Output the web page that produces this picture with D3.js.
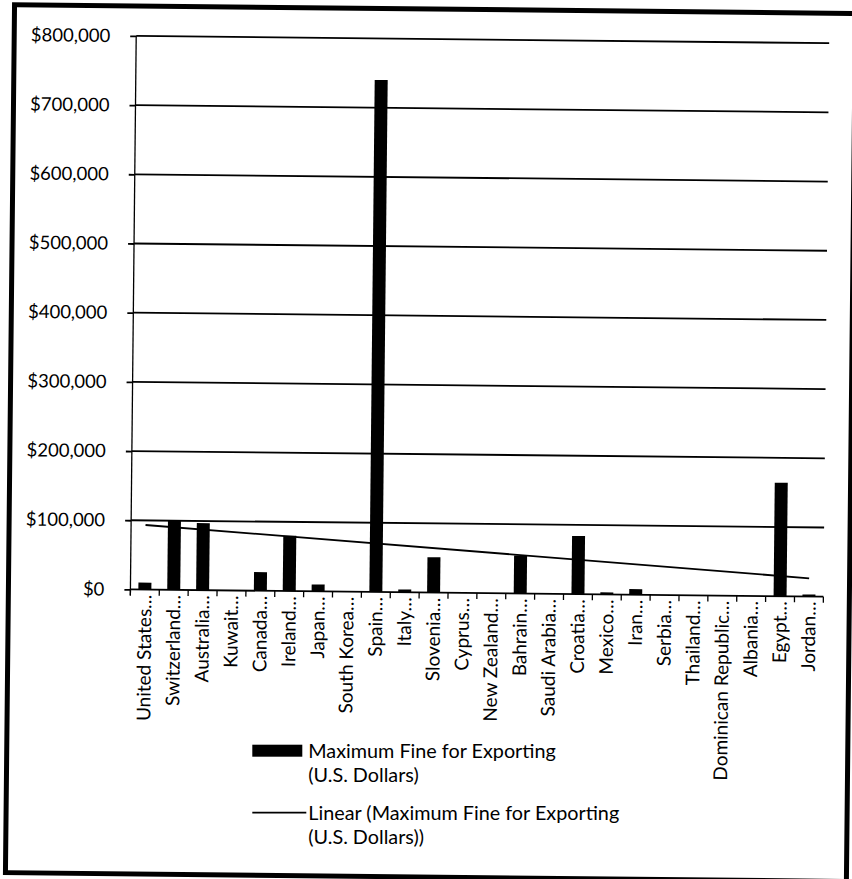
<!DOCTYPE html>
<html>
<head>
<meta charset="utf-8">
<script src="https://cdn.jsdelivr.net/npm/d3@7"></script>
<style>
  body { margin: 0; background: #fff; }
  svg { display: block; }
  text { font-family: Lato, "Open Sans", sans-serif; fill: #000; }
</style>
</head>
<body>
<svg id="chart" width="852" height="879"></svg>
<script>
// Countries in chart order
const countries = [
  "United States", "Switzerland", "Australia", "Kuwait", "Canada", "Ireland",
  "Japan", "South Korea", "Spain", "Italy", "Slovenia", "Cyprus",
  "New Zealand", "Bahrain", "Saudi Arabia", "Croatia", "Mexico", "Iran",
  "Serbia", "Thailand", "Dominican Republic", "Albania", "Egypt", "Jordan"
];

// Maximum fine for exporting, U.S. dollars
const maxFines = [
  10000, 100000, 97000, 0, 27000, 80000,
  10000, 0, 740000, 4000, 51000, 0,
  0, 55000, 0, 84000, 3000, 8000,
  0, 0, 0, 0, 164000, 3000
];

const yTicks = [0, 100000, 200000, 300000, 400000, 500000, 600000, 700000, 800000];

const legendBarText = ["Maximum Fine for Exporting", "(U.S. Dollars)"];
const legendTrendText = ["Linear (Maximum Fine for Exporting", "(U.S. Dollars))"];

const svg = d3.select("#chart");
// The whole sheet sits at a slight angle on the page
const root = svg.append("g").attr("transform", "rotate(0.6, 426, 440)");

const plot = { left: 132, right: 825, top: 39, bottom: 592.5 };
const axisFont = 18.5;
const labelFont = 19;
const legendFont = 19.8;

const x = d3.scaleBand()
  .domain(countries)
  .range([plot.left, plot.right])
  .paddingInner(0.55)
  .paddingOuter(0.275);

const y = d3.scaleLinear()
  .domain([0, 800000])
  .range([plot.bottom, plot.top]);

// Outer frame
root.append("rect")
  .attr("x", 10).attr("y", 9)
  .attr("width", 841).attr("height", 868)
  .attr("fill", "none")
  .attr("stroke", "#000")
  .attr("stroke-width", 5);

// Horizontal gridlines
root.append("g")
  .selectAll("line")
  .data(yTicks)
  .join("line")
  .attr("x1", plot.left).attr("x2", plot.right)
  .attr("y1", d => y(d)).attr("y2", d => y(d))
  .attr("stroke", "#000")
  .attr("stroke-width", 1.8);

// Y axis with currency labels
const yAxis = root.append("g")
  .attr("transform", `translate(${plot.left},0)`)
  .call(d3.axisLeft(y)
    .tickValues(yTicks)
    .tickSize(6)
    .tickSizeOuter(0)
    .tickPadding(20)
    .tickFormat(d3.format("$,")));
yAxis.select(".domain").attr("stroke", "#000").attr("stroke-width", 1.3)
  .attr("d", `M0,${plot.top}V${plot.bottom + 6}`);
yAxis.selectAll(".tick line").attr("stroke", "#000").attr("stroke-width", 1.8);
yAxis.selectAll(".tick text")
  .style("font-family", "Lato, 'Open Sans', sans-serif")
  .style("font-size", axisFont + "px")
  .attr("fill", "#000");

// Category tick marks between bands
const step = x.step();
const boundaries = countries.map(c => x(c) - step * x.paddingInner() / 2);
boundaries.push(x(countries[countries.length - 1]) + x.bandwidth() + step * x.paddingInner() / 2);
root.append("g")
  .selectAll("line")
  .data(boundaries)
  .join("line")
  .attr("x1", d => d).attr("x2", d => d)
  .attr("y1", plot.bottom).attr("y2", plot.bottom + 6)
  .attr("stroke", "#000")
  .attr("stroke-width", 1.3);

// Bars
root.append("g")
  .selectAll("rect")
  .data(countries.map((c, i) => ({ c, v: maxFines[i] })))
  .join("rect")
  .attr("x", d => x(d.c))
  .attr("width", x.bandwidth())
  .attr("y", d => y(d.v))
  .attr("height", d => y(0) - y(d.v))
  .attr("fill", "#000");

// Category labels, rotated and truncated
root.append("g")
  .selectAll("text")
  .data(countries)
  .join("text")
  .attr("transform", d => `translate(${x(d) + x.bandwidth() / 2},${plot.bottom + 5}) rotate(-90)`)
  .attr("text-anchor", "end")
  .attr("dy", "0.35em")
  .style("font-size", labelFont + "px")
  .text(d => d + "…");

// Linear trendline fitted over category index
const idx = maxFines.map((v, i) => i + 1);
const n = idx.length;
const mx = d3.mean(idx), my = d3.mean(maxFines);
const slope = d3.sum(idx, (xi, i) => (xi - mx) * (maxFines[i] - my)) /
              d3.sum(idx, xi => (xi - mx) * (xi - mx));
const intercept = my - slope * mx;
const trend = [1, n].map(k => ({ c: countries[k - 1], v: intercept + slope * k }));
root.append("path")
  .datum(trend)
  .attr("fill", "none")
  .attr("stroke", "#000")
  .attr("stroke-width", 1.8)
  .attr("d", d3.line()
    .x(d => x(d.c) + x.bandwidth() / 2)
    .y(d => y(d.v)));

// Legend, kept level and nudged to follow the sheet's tilt at its position
const lineGap = 24.5;
const legend = svg.append("g").attr("transform", "translate(-3.7,-0.3)");

function legendLabel(lines, top) {
  legend.append("g")
    .selectAll("text")
    .data(lines)
    .join("text")
    .attr("x", 312)
    .attr("y", (d, i) => top + i * lineGap)
    .attr("dy", "0.35em")
    .style("font-size", legendFont + "px")
    .text(d => d);
}

legend.append("rect")
  .attr("x", 256).attr("y", 745)
  .attr("width", 50).attr("height", 12)
  .attr("fill", "#000");
legendLabel(legendBarText, 751);

legend.append("line")
  .attr("x1", 256).attr("x2", 310)
  .attr("y1", 813).attr("y2", 813)
  .attr("stroke", "#000")
  .attr("stroke-width", 1.8);
legendLabel(legendTrendText, 813);
</script>
</body>
</html>
